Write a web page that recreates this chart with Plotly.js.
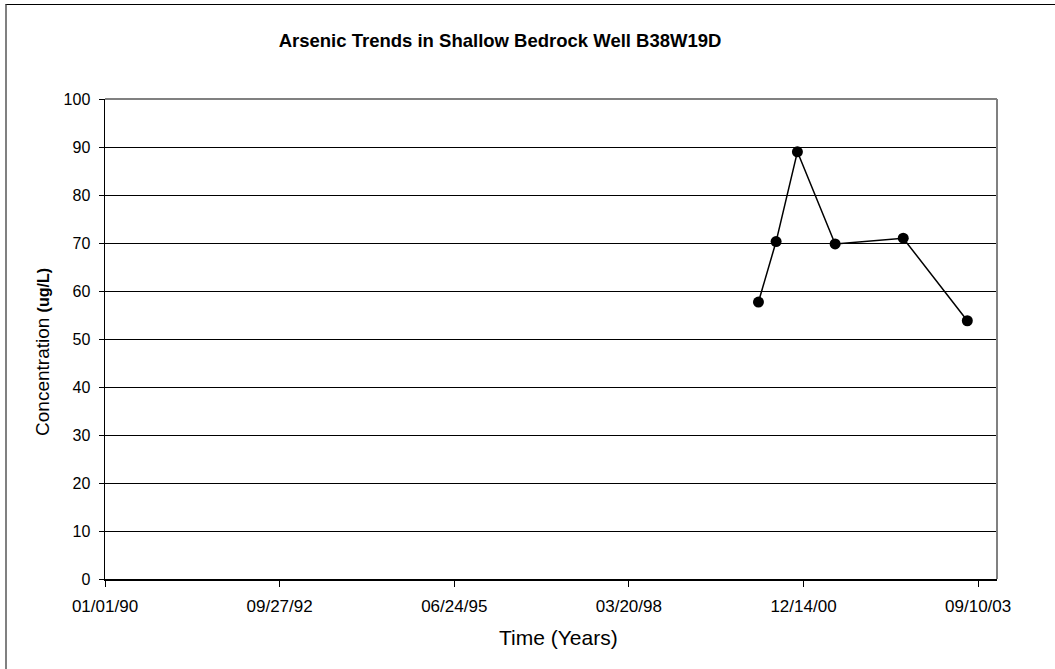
<!DOCTYPE html>
<html>
<head>
<meta charset="utf-8">
<script src="https://cdn.plot.ly/plotly-3.0.1.min.js"></script>
<style>
  html, body { margin: 0; padding: 0; background: #fff; }
  #wrap { position: relative; width: 1055px; height: 669px; overflow: hidden; }
  #chart { width: 1055px; height: 669px; }
  #frame { position: absolute; left: 5px; top: 4px; width: 1200px; height: 800px;
           border-top: 1px solid #000; border-left: 2px solid #808080; pointer-events: none; }
</style>
</head>
<body>
<div id="wrap">
  <div id="chart"></div>
  <div id="frame"></div>
</div>
<script>
// Sampling dates and arsenic concentrations (ug/L)
const sampleDates = ['2000-03-31', '2000-07-10', '2000-11-09', '2001-06-13', '2002-07-08', '2003-07-10'];
const arsenic = [57.7, 70.3, 89.0, 69.8, 71.0, 53.8];

const xRange = ['1990-01-01', '2003-12-27'];
const xTick0 = '1990-01-01';
const xTickDays = 1000;
const yRange = [0, 100];

const trace = {
  x: sampleDates,
  y: arsenic,
  type: 'scatter',
  mode: 'lines+markers',
  line: { color: '#000', width: 1.5 },
  marker: { color: '#000', size: 11 },
  showlegend: false,
  hoverinfo: 'x+y'
};

const layout = {
  width: 1055,
  height: 669,
  margin: { l: 105, r: 58, t: 99, b: 90 },
  paper_bgcolor: '#fff',
  plot_bgcolor: '#fff',
  font: { family: 'Liberation Sans, Arial, sans-serif', color: '#000' },
  title: {
    text: 'Arsenic Trends in Shallow Bedrock Well B38W19D',
    font: { size: 18.5, color: '#000', family: 'Liberation Sans, Arial, sans-serif', weight: 'bold' },
    x: 0.474, xanchor: 'center', y: 0.939, yanchor: 'middle', xref: 'container', yref: 'container'
  },
  xaxis: {
    type: 'date',
    range: xRange,
    tick0: xTick0,
    dtick: xTickDays * 86400000,
    tickformat: '%m/%d/%y',
    ticks: 'outside', ticklen: 6, tickcolor: '#000', tickwidth: 1,
    ticklabelstandoff: 5,
    showline: true, linecolor: '#000', linewidth: 1.5,
    showgrid: false, zeroline: false,
    tickfont: { size: 17, color: '#000' }
  },
  yaxis: {
    range: yRange,
    dtick: 10,
    ticks: 'outside', ticklen: 5, tickcolor: '#000', tickwidth: 1,
    ticklabelstandoff: 5,
    showline: true, linecolor: '#000', linewidth: 1.5,
    showgrid: true, gridcolor: '#000', gridwidth: 1,
    zeroline: false,
    tickfont: { size: 16, color: '#000' }
  },
  annotations: [
    { text: 'Time (Years)', xref: 'paper', yref: 'paper', x: 0.508, y: -0.121,
      xanchor: 'center', yanchor: 'middle', showarrow: false, font: { size: 21, color: '#000' } },
    { text: 'Concentration <b><span style="font-size:16px">(ug/L)</span></b>', xref: 'paper', yref: 'paper',
      x: -0.0695, y: 0.473, xanchor: 'center', yanchor: 'middle', textangle: -90, showarrow: false,
      font: { size: 19, color: '#000' } }
  ],
  shapes: [
    { type: 'line', xref: 'paper', yref: 'paper', x0: 0, x1: 1, y0: 1, y1: 1, line: { color: '#808080', width: 2 } },
    { type: 'line', xref: 'paper', yref: 'paper', x0: 1, x1: 1, y0: 0, y1: 1, line: { color: '#808080', width: 2 } }
  ]
};

Plotly.newPlot('chart', [trace], layout, { displayModeBar: false, staticPlot: true });
</script>
</body>
</html>
